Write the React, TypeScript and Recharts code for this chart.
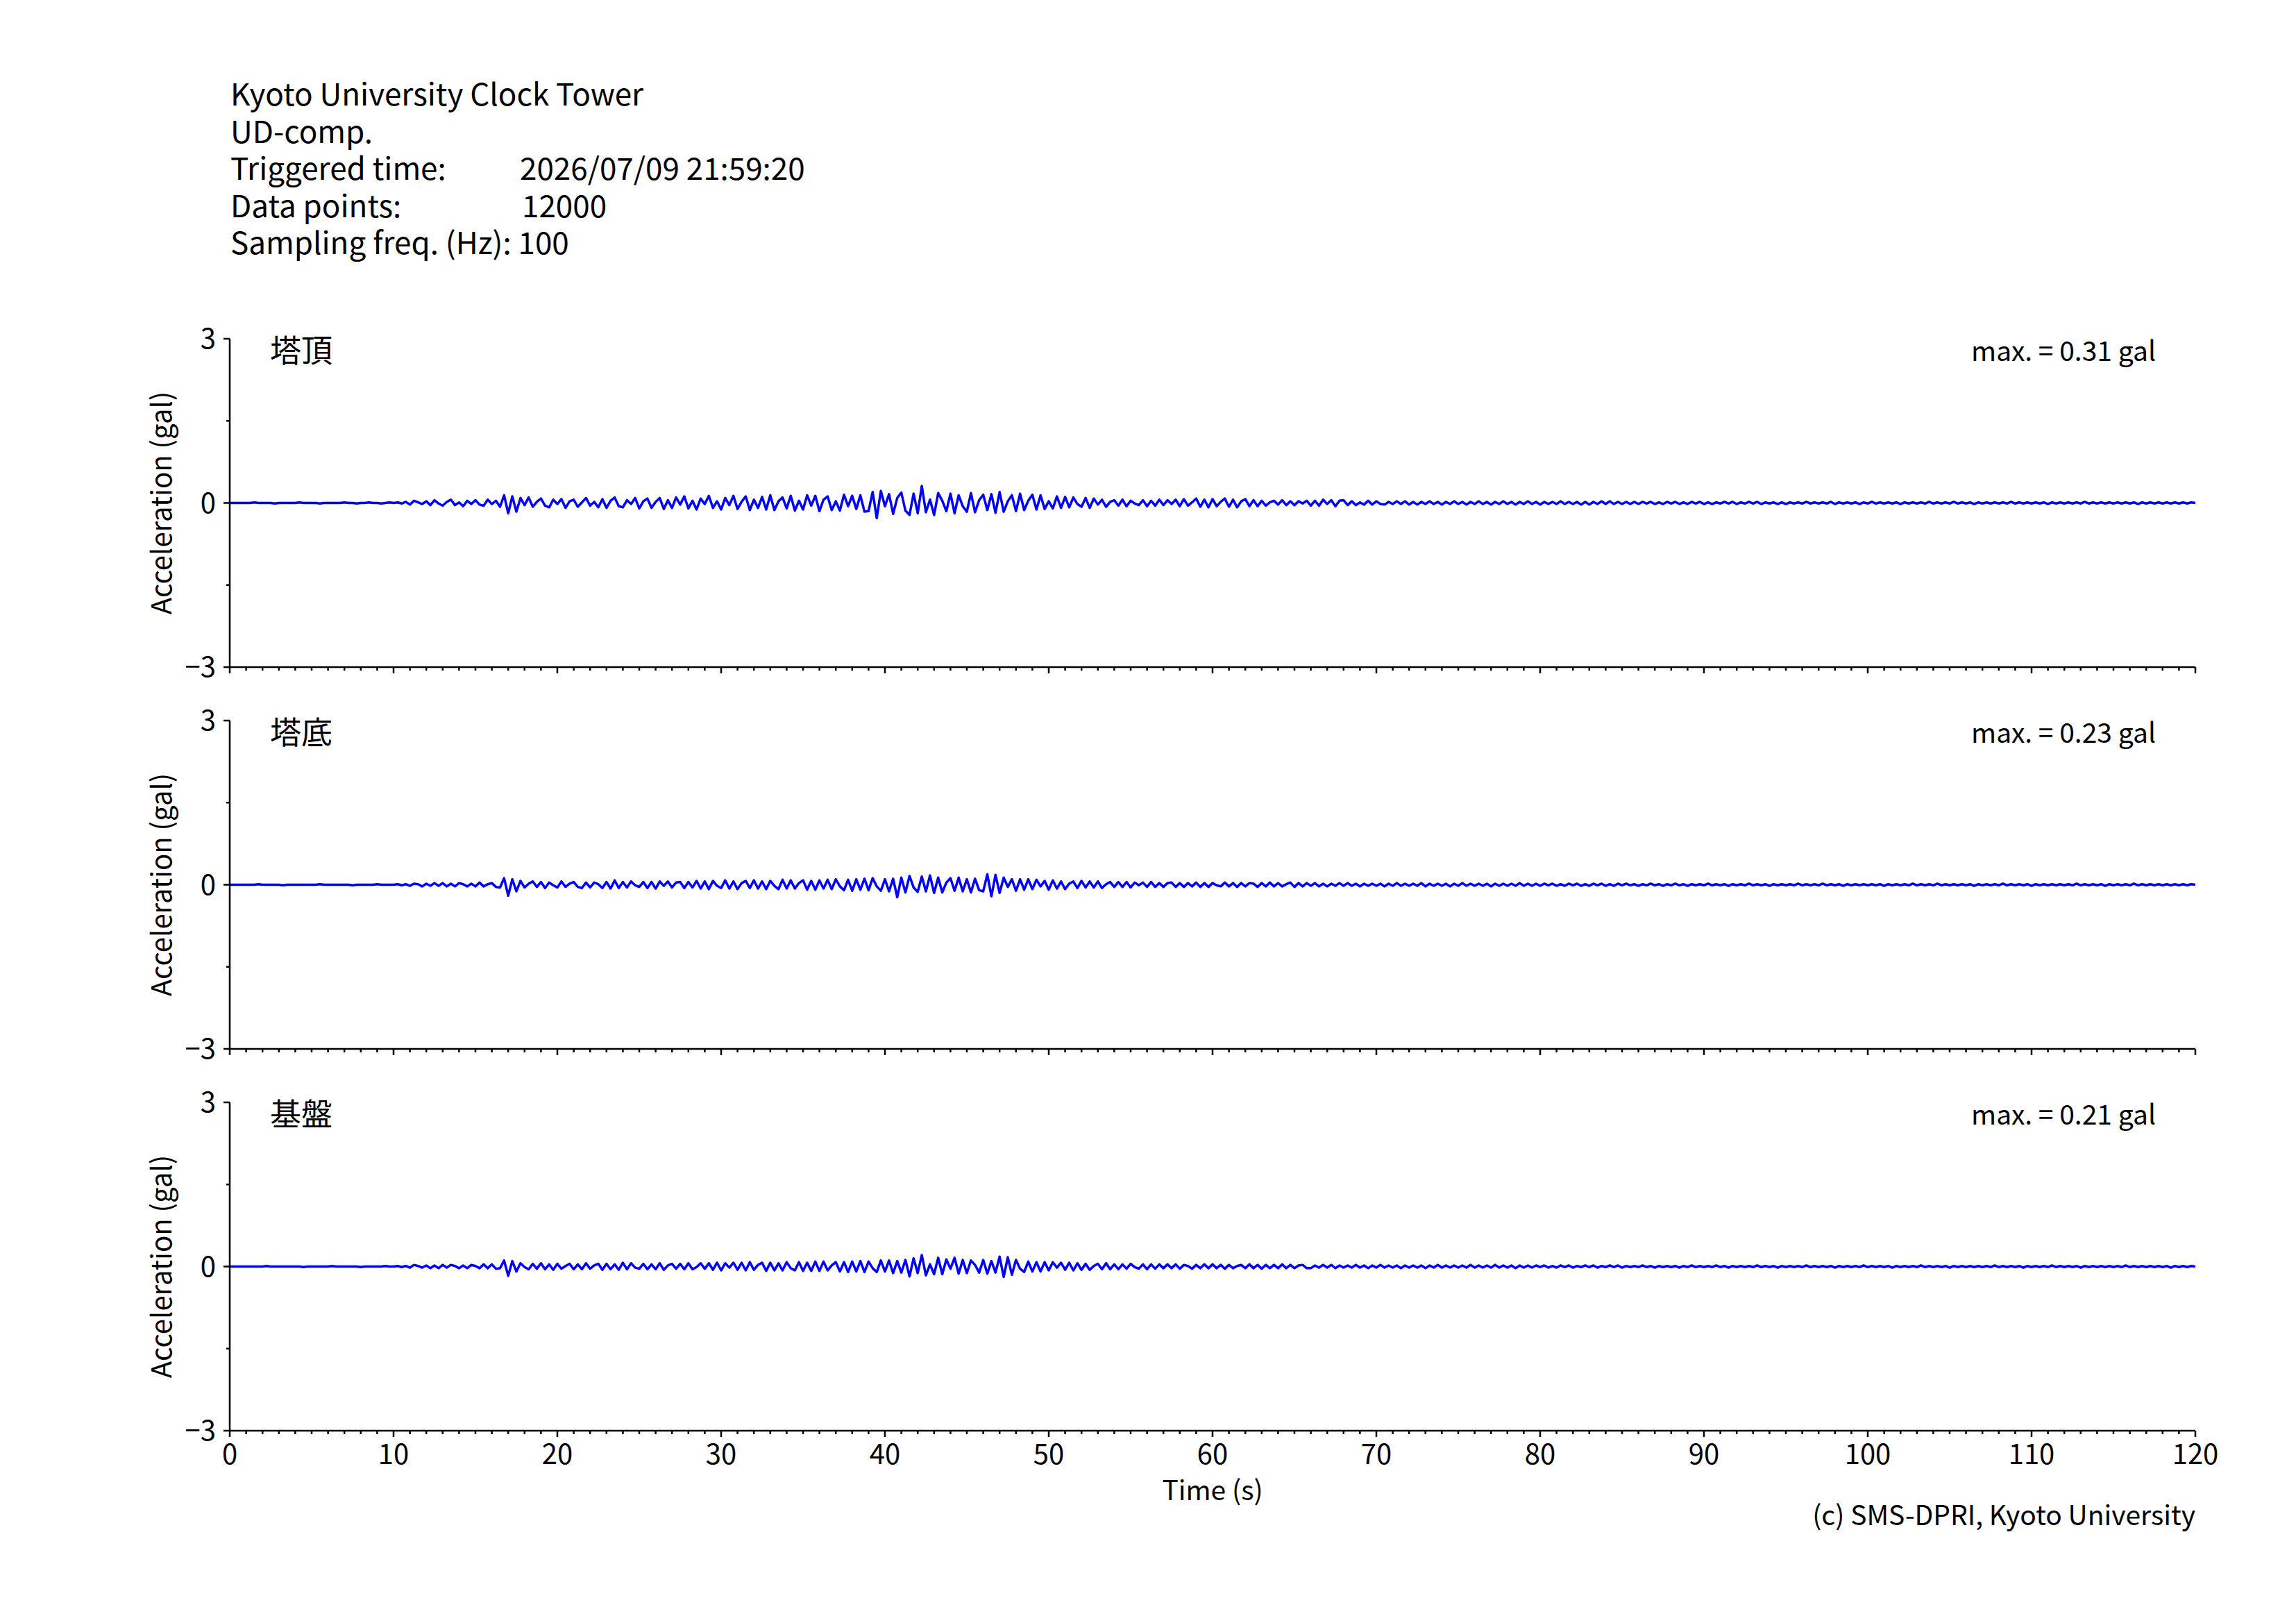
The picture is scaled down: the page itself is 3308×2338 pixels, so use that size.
import { LineChart, Line, XAxis, YAxis } from "recharts";

const FONT = '"Noto Sans CJK JP", "Noto Sans", sans-serif';
const FS = 40;

// sampling step of the traced waveform (s)
const DT = 0.25;

// acceleration, in 0.01 gal, one value every 0.25 s (0 .. 120 s)
const towerTop = [
  0,0,0,0, 0,0,1,0, 0,0,0,-1, 0,0,0,0, 0,1,0,0,
  0,0,-1,0, 0,0,0,0, 1,0,0,-1, 0,0,1,0, 0,-1,0,1,
  0,1,-1,2, -3,4,1,-2, 3,-4,5,-1, -5,2,6,-4, 1,-6,4,-2,
  5,-3,-5,6, -2,4,-7,14, -19,12,-16,9, -4,10,-7,2, 8,-5,-8,6,
  -2,7,-9,3, 6,-7,1,9, -5,2,-8,7, -9,4,10,-6, -8,5,-2,9,
  -10,3,8,-9, 2,9,-11,5, -9,10,-3,12, -10,4,-12,8, -2,13,-9,3,
  -12,9,-4,13, -11,2,12,-13, 6,-9,11,-12, 14,-13,3,10, -10,13,-14,4,
  -12,14,-5,13, -15,6,12,-13, 3,-14,15,-6, 13,-11,14,-16, -15,20,-28,22,
  -6,16,-20,9, 19,-14,-22,17, -19,31,-17,6, -22,18,4,-15, 17,-19,14,-6,
  -16,18,-17,5, 15,-13,16,-18, 20,-16,3,14, -15,17,-13,4, 15,-12,14,-11,
  3,-10,12,-9, 11,-8,10,-2, -7,9,-9,8, -3,6,-7,2, 5,-5,6,-6,
  4,-1,-4,5, -6,4,-5,6, -4,5,-2,6, -6,7,-5,1, 8,-7,6,-8,
  7,-6,2,8, -7,6,-8,3, 7,-6,5,-6, 4,-5,1,4, -3,5,-4,3,
  -4,3,-1,4, -5,4,-5,6, -2,5,-6,4, 5,-4,3,-4, 1,-3,4,-3,
  3,-2,-3,2, -2,3,-2,3, -3,2,-3,2, -2,3,-2,2, -3,2,-2,3,
  -2,2,-3,2, -2,3,-2,2, -3,2,-2,3, -2,2,-3,2, -2,3,-2,2,
  -3,2,-2,2, -2,3,-2,2, -2,2,-3,2, -3,2,-2,3, -2,3,-2,2,
  -2,2,-2,2, -2,2,-1,2, -2,1,-2,2, -1,2,-2,1, -2,2,-1,2,
  -2,1,-2,1, -1,2,-1,2, -2,1,-1,2, -1,2,-2,1, -1,1,-2,1,
  -2,1,-1,1, -1,2,-1,1, -1,1,-1,2, -2,1,-1,1, -1,1,-2,1,
  -1,2,-1,1, -1,1,-1,1, -2,1,-1,1, -1,1,-1,2, -1,1,-1,1,
  -1,2,-1,1, -1,1,-2,1, -1,1,-1,1, -1,1,-1,2, -1,1,-1,1,
  -1,1,-1,1, -2,1,-1,1, -1,1,-1,1, -1,2,-1,1, -1,1,-1,1,
  -1,1,-1,1, -1,1,-2,1, -1,1,-1,1, -1,1,-1,1, -1,1,-1,1,
  0,
];

const towerBase = [
  0,0,0,0, 0,0,0,1, 0,0,0,0, 0,-1,0,0, 0,0,0,0,
  0,0,1,0, 0,0,0,0, 0,0,-1,0, 0,0,0,0, 1,0,0,0,
  0,1,-1,1, -2,2,1,-3, 2,-2,3,-2, 3,-3,2,-3, 3,1,-3,2,
  -3,4,-3,1, 3,-4,-5,12, -20,10,-12,7, -5,2,6,-4, 5,-6,4,-1,
  -5,6,-4,2, 5,-4,-6,4, -5,4,1,-6, 5,-7,8,-6, 5,-5,6,-1,
  -4,5,-6,5, -7,6,-2,6, -5,4,5,-6, 5,-5,7,-7, 6,-8,7,-2,
  -6,8,-7,6, -8,3,7,-6, 8,-7,6,-8, 7,-2,-8,9, -7,8,-7,3,
  8,-9,7,-9, 8,-7,9,-8, 10,-3,-10,9, -11,10,-9,11, -10,12,-3,-11,
  10,-12,11,-23, 13,-14,16,-5, -13,15,-12,17, -15,13,-14,4, 12,-11,13,-12,
  10,-14,11,-10, -12,19,-21,18, -15,13,-4,10, -11,10,-9,10, -8,9,-3,7,
  -9,8,-7,6, -8,2,6,-6, 7,-5,6,-5, 6,-6,1,5, -4,5,-4,5,
  -5,4,-1,4, -4,5,-4,3, -4,3,4,-4, 3,-4,3,-3, 4,-4,3,-4,
  3,-1,-3,4, -3,3,-4,3, -3,3,2,-4, 3,-3,4,-3, 3,-3,1,4,
  -4,3,-3,3, -2,3,-3,2, -3,2,-2,3, -2,3,-2,2, -3,2,-2,2,
  -2,2,-3,2, -2,3,-2,2, -2,2,-2,3, -3,2,-2,2, -2,2,-3,2,
  -2,3,-2,2, -2,2,-2,2, -3,2,-2,2, -2,2,-2,3, -2,2,-2,2,
  -2,2,-1,2, -2,1,-2,2, -1,2,-2,1, -2,2,-1,2, -2,1,-2,2,
  -1,2,-1,1, -2,1,-1,2, -1,1,-2,1, -1,2,-1,1, -2,1,-1,1,
  -1,2,-1,1, -1,1,-2,1, -1,1,-1,2, -1,1,-1,1, -2,1,-1,1,
  -1,1,-1,2, -1,1,-1,1, -1,2,-1,1, -1,1,-2,1, -1,1,-1,1,
  -1,1,-1,1, -2,1,-1,1, -1,1,-1,2, -1,1,-1,1, -1,2,-1,1,
  -1,1,-1,1, -1,1,-2,1, -1,1,-1,1, -1,2,-1,1, -1,1,-1,1,
  -2,1,-1,1, -1,1,-1,1, -1,1,-1,2, -1,1,-1,1, -1,1,-2,1,
  -1,1,-1,1, -1,2,-1,1, -1,1,-1,1, -1,1,-1,1, -1,1,-1,1,
  0,
];

const bedrock = [
  0,0,0,0, 0,0,0,0, 0,1,0,0, 0,0,0,0, 0,0,-1,0,
  0,0,0,0, 0,1,0,0, 0,0,0,0, -1,0,0,0, 0,0,1,0,
  0,1,-1,1, -2,3,1,-2, 2,-3,2,-3, 3,-2,3,1, -3,2,-3,3,
  1,-3,4,-3, 4,-4,-3,11, -17,10,-9,6, -1,-5,5,-4, 6,-5,4,-6,
  5,-4,1,5, -5,4,-5,6, -4,2,5,-6, 5,-5,4,-6, 7,-5,6,-2,
  -4,5,-5,4, -5,6,-6,2, 5,-4,5,-5, 6,-5,-1,6, -4,6,-6,7,
  -7,6,-2,7, -6,7,-7,8, -6,3,7,-8, 7,-7,6,-7, 8,-3,-7,8,
  -8,7,-8,9, -8,9,-7,2, 8,-9,8,-10, 9,-9,10,-10, 9,-3,-10,11,
  -9,11,-12,10, -11,12,-18,15, -12,21,-16,4, -14,16,-14,13, -4,16,-13,12,
  -12,11,3,-11, 12,-13,10,-11, 18,-19,17,-15, 12,-4,-10,9, -9,8,-9,8,
  -7,8,-2,7, -6,7,-7,6, -6,5,-6,1, 5,-5,6,-5, 4,-5,4,-4,
  5,-1,-4,4, -5,4,-4,4, -3,4,-3,4, -4,3,1,-4, 3,-3,4,-3,
  4,-3,3,-4, 3,-3,1,3, -3,4,-3,3, -4,3,-3,3, -3,4,-3,3,
  -3,2,3,-3, -3,2,-2,3, -2,3,-3,2, -2,2,-2,3, -2,2,-3,2,
  -2,3,-2,2, -2,2,-3,2, -2,2,-2,2, -3,2,-2,3, -2,2,-2,2,
  -2,2,-2,3, -2,2,-2,2, -2,3,-2,2, -2,2,-3,2, -2,2,-2,2,
  -1,2,-2,1, -2,2,-1,2, -2,1,-1,2, -1,2,-2,1, -1,2,-1,2,
  -2,1,-1,1, -1,2,-1,1, -2,1,-1,1, -1,1,-2,1, -1,2,-1,1,
  -1,1,-1,2, -1,1,-2,1, -1,1,-1,1, -1,2,-1,1, -1,1,-2,1,
  -1,1,-1,1, -1,2,-1,1, -1,1,-1,1, -2,1,-1,1, -1,1,-1,2,
  -1,1,-1,1, -1,1,-2,1, -1,1,-1,1, -1,2,-1,1, -1,1,-1,1,
  -2,1,-1,1, -1,1,-1,1, -1,1,-1,2, -1,1,-1,1, -1,1,-2,1,
  -1,1,-1,1, -1,2,-1,1, -1,1,-1,1, -2,1,-1,1, -1,1,-1,1,
  -1,1,-1,2, -1,1,-1,1, -1,1,-1,1, -1,1,-2,1, -1,1,-1,1,
  0,
];

const seriesValues = [towerTop, towerBase, bedrock];
const panelNames = ["塔頂", "塔底", "基盤"];
const maxLabels = ["max. = 0.31 gal", "max. = 0.23 gal", "max. = 0.21 gal"];

const xTicks = Array.from({ length: 121 }, (_, i) => i); // 1 s minor, 10 s major
const yTicks = [-3, -1.5, 0, 1.5, 3];

const headerLines = [
  "Kyoto University Clock Tower",
  "UD-comp.",
  "Triggered time:",
  "Data points:",
  "Sampling freq. (Hz): 100",
];
const headerValues = ["", "", "2026/07/09 21:59:20", "12000", ""];

// layout (px)
const PLOT_LEFT = 331;
const PLOT_RIGHT = 3163;
const PANEL_TOPS = [488, 1038, 1588];
const PANEL_H = 473;
const TOP_PAD = 40;
const X_AXIS_H = 140;

const fmt = (v: number) => (v < 0 ? "\u2212" + Math.abs(v) : String(v));

const XTick = (props: any) => {
  const { x, y, payload, showLabel } = props;
  const v = payload.value;
  const major = v % 10 === 0;
  return (
    <g>
      <line x1={x} x2={x} y1={y} y2={y + (major ? 9 : 5)} stroke="#000" strokeWidth={2.5} />
      {major && showLabel && (
        <text x={x} y={y + 48} textAnchor="middle" fontSize={FS} fontFamily={FONT} fill="#000">
          {v}
        </text>
      )}
    </g>
  );
};

const YTick = (props: any) => {
  const { x, y, payload } = props;
  const v = payload.value;
  const major = v % 3 === 0;
  return (
    <g>
      <line x1={x} x2={x - (major ? 9 : 5)} y1={y} y2={y} stroke="#000" strokeWidth={2.5} />
      {major && (
        <text x={x - 20} y={y + 14} textAnchor="end" fontSize={FS} fontFamily={FONT} fill="#000">
          {fmt(v)}
        </text>
      )}
    </g>
  );
};

const Panel = ({ idx }: { idx: number }) => {
  const data = seriesValues[idx].map((v, i) => ({ t: i * DT, a: v / 100 }));
  const last = idx === 2;
  return (
    <div style={{ position: "absolute", left: 0, top: PANEL_TOPS[idx] - TOP_PAD }}>
      <LineChart
        width={3308}
        height={TOP_PAD + PANEL_H + X_AXIS_H}
        data={data}
        margin={{ top: TOP_PAD, right: 3308 - PLOT_RIGHT, bottom: 0, left: 200 }}
      >
        <XAxis
          dataKey="t"
          type="number"
          domain={[0, 120]}
          ticks={xTicks}
          interval={0}
          height={X_AXIS_H}
          tickSize={0}
          tickMargin={0}
          axisLine={{ stroke: "#000", strokeWidth: 2.5 }}
          tick={(p: any) => <XTick {...p} showLabel={last} />}
        />
        <YAxis
          type="number"
          domain={[-3, 3]}
          ticks={yTicks}
          interval={0}
          width={PLOT_LEFT - 200}
          tickSize={0}
          tickMargin={0}
          axisLine={{ stroke: "#000", strokeWidth: 2.5 }}
          tick={(p: any) => <YTick {...p} />}
        />
        <Line
          type="linear"
          dataKey="a"
          stroke="#0000ff"
          strokeWidth={3.5}
          strokeLinejoin="round"
          dot={false}
          isAnimationActive={false}
        />
      </LineChart>
    </div>
  );
};

export default function App() {
  const textProps = { fontSize: 39, fontFamily: FONT, fill: "#000" };
  const headProps = { fontSize: 44, fontFamily: FONT, fill: "#000" };
  return (
    <div style={{ position: "absolute", left: 0, top: 0, width: 3308, height: 2338, background: "#fff" }}>
      {[0, 1, 2].map((i) => (
        <Panel key={i} idx={i} />
      ))}
      <svg
        width={3308}
        height={2338}
        style={{ position: "absolute", left: 0, top: 0, pointerEvents: "none" }}
      >
        {headerLines.map((s, i) => (
          <text key={"h" + i} x={332} y={152 + i * 53.6} {...headProps}>
            {s}
          </text>
        ))}
        {headerValues.map((s, i) =>
          s ? (
            <text key={"v" + i} x={i === 3 ? 752 : 749} y={152 + i * 53.6} {...headProps}>
              {s}
            </text>
          ) : null
        )}
        {PANEL_TOPS.map((top, i) => (
          <g key={"p" + i}>
            <text x={389} y={top + 34} fontSize={45} fontFamily={FONT} fill="#000">
              {panelNames[i]}
            </text>
            <text x={3106} y={top + 32} textAnchor="end" {...textProps}>
              {maxLabels[i]}
            </text>
            <text
              x={247}
              y={top + PANEL_H / 2}
              textAnchor="middle"
              transform={`rotate(-90, 247, ${top + PANEL_H / 2})`}
              fontSize={FS}
              fontFamily={FONT}
              fill="#000"
            >
              Acceleration (gal)
            </text>
          </g>
        ))}
        <text x={(PLOT_LEFT + PLOT_RIGHT) / 2} y={2161} textAnchor="middle" {...textProps}>
          Time (s)
        </text>
        <text x={PLOT_RIGHT} y={2197} textAnchor="end" {...textProps}>
          (c) SMS-DPRI, Kyoto University
        </text>
      </svg>
    </div>
  );
}
